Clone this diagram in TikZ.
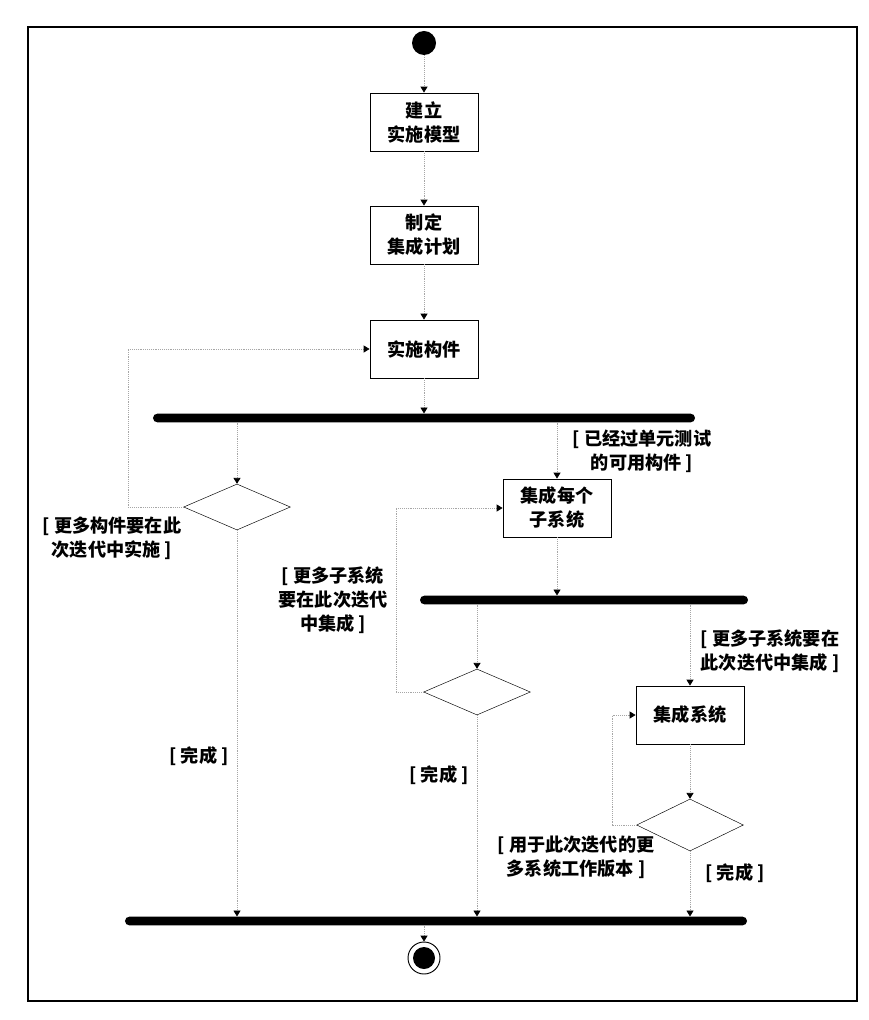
\documentclass[tikz,border=0pt]{standalone}
\usepackage{fontspec}
\newfontfamily\cjk{Noto Sans CJK SC}
\usetikzlibrary{arrows.meta,positioning,shapes.geometric}

\begin{document}
\begin{tikzpicture}[x=0.03cm, y=-0.03cm, font=\cjk\bfseries\fontsize{15.5}{20.5}\selectfont, activity/.style={draw, thick, minimum width=3.24cm, minimum height=1.74cm, align=center, inner sep=2pt}, choice/.style={draw, diamond, minimum width=3.2cm, minimum height=1.38cm, inner sep=0pt}, syncbar/.style={fill=black, rounded corners=0.13cm, minimum height=0.26cm, inner sep=0pt}, flow/.style={gray!70, densely dotted, line width=0.6pt, -{Triangle[color=black, width=6pt, length=5pt]}}, guard/.style={align=center, inner sep=1pt}]
\useasboundingbox (0,0) rectangle (868,1020);
\draw[line width=2.2pt] (28,27) rectangle (857,1001);
\node[circle, fill=black, minimum size=0.72cm, inner sep=0pt] (start) at (424,43) {};
\node[activity] (b1) at (424,122) {建立\\实施模型};
\node[activity] (b2) at (424,235) {制定\\集成计划};
\node[activity] (b3) at (424,349) {实施构件};
\node[syncbar, minimum width=16.26cm] (f1) at (424,418) {};
\node[choice] (d1) at (237,507) {};
\node[activity] (b4) at (557,508) {集成每个\\子系统};
\node[syncbar, minimum width=9.84cm] (f2) at (584,600) {};
\node[choice] (d2) at (477,692) {};
\node[activity] (b5) at (690,715) {集成系统};
\node[choice, minimum height=1.56cm] (d3) at (690,825) {};
\node[syncbar, minimum width=18.66cm] (f3) at (436,921) {};
\node[circle, draw, thick, minimum size=0.96cm, inner sep=0pt] (stop) at (424,958) {};
\node[circle, fill=black, minimum size=0.66cm, inner sep=0pt] (stopdot) at (stop) {};
% guards
\node[guard] (g1) at (112,538) {[ 更多构件要在此\\次迭代中实施 ]};
\node[guard] (g2) at (642,451) {[ 已经过单元测试\\的可用构件 ]};
\node[guard] (g3) at (333,600) {[ 更多子系统\\要在此次迭代\\中集成 ]};
\node[guard] (g4) at (770,651) {[ 更多子系统要在\\此次迭代中集成 ]};
\node[guard] (g5) at (199,756) {[ 完成 ]};
\node[guard] (g6) at (439,775) {[ 完成 ]};
\node[guard] (g7) at (576,857) {[ 用于此次迭代的更\\多系统工作版本 ]};
\node[guard] (g8) at (735,873) {[ 完成 ]};
% flows
\draw[flow] (start) -- (b1); \draw[flow] (b1) -- (b2); \draw[flow] (b2) -- (b3);
\draw[flow] (b3) -- (b3.south |- f1.north);
\draw[flow] (d1.north |- f1.south) -- (d1); \draw[flow] (b4.north |- f1.south) -- (b4);
\draw[flow] (b4) -- (b4.south |- f2.north);
\draw[flow] (d2.north |- f2.south) -- (d2); \draw[flow] (b5.north |- f2.south) -- (b5);
\draw[flow] (b5) -- (d3);
\draw[flow] (d1) -- (d1.south |- f3.north); \draw[flow] (d2) -- (d2.south |- f3.north); \draw[flow] (d3) -- (d3.south |- f3.north);
\draw[flow] (f3.south -| stop) -- (stop);
% loops back
\coordinate (k1) at (128,0); \coordinate (k2) at (396,0); \coordinate (k3) at (612,0);
\draw[flow] (d1.west) -- (d1.west -| k1) |- (b3.west);
\draw[flow] (d2.west) -- (d2.west -| k2) |- (b4.west);
\draw[flow] (d3.west) -- (d3.west -| k3) |- (b5.west);
\end{tikzpicture}
\end{document}
